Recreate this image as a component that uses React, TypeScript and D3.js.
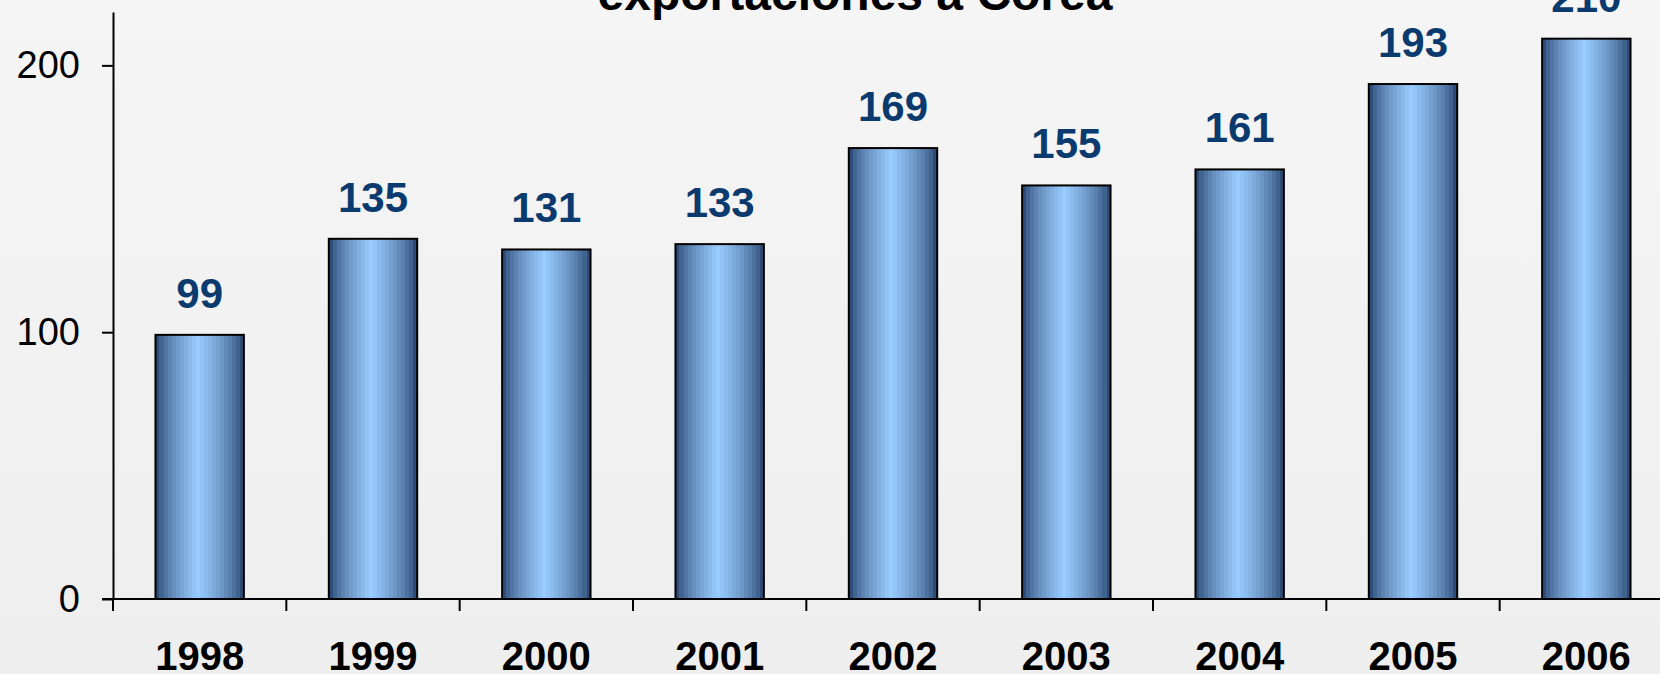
import { useRef, useEffect } from 'react'
import * as d3 from 'd3'

const years = ['1998', '1999', '2000', '2001', '2002', '2003', '2004', '2005', '2006']
const values = [99, 135, 131, 133, 169, 155, 161, 193, 210]
const yTicks = [0, 100, 200]
const title = 'exportaciones a Corea'

const W = 1660
const H = 674

const App = () => {
  const chartRef = useRef<SVGSVGElement>(null)

  useEffect(() => {
    drawChart()
  }, [])

  const drawChart = () => {
    const svg = d3.select(chartRef.current)
    svg.selectAll('*').remove()

    const left = 113
    const right = 1673
    const zeroY = 599
    const topY = 12

    const x = d3.scaleBand().domain(years).range([left, right]).paddingInner(0.49).paddingOuter(0.245)
    const y = d3.scaleLinear().domain([0, 220]).range([zeroY, topY])

    const defs = svg.append('defs')
    const bg = defs.append('linearGradient').attr('id', 'bg').attr('x1', 0).attr('y1', 0).attr('x2', 0).attr('y2', 1)
    bg.append('stop').attr('offset', '0%').attr('stop-color', '#f5f5f5')
    bg.append('stop').attr('offset', '100%').attr('stop-color', '#eeeeee')

    // stepped cylinder shading
    const grad = defs.append('linearGradient').attr('id', 'bar').attr('x1', 0).attr('y1', 0).attr('x2', 1).attr('y2', 0)
    const dark = '#1b355f'
    const light = '#99ccff'
    const peak = 0.48
    const steps = 22
    const shade = (t: number) => {
      const k = t < peak ? t / peak : (1 - t) / (1 - peak)
      return d3.interpolateRgb(dark, light)(Math.pow(k, 0.6))
    }
    for (let i = 0; i < steps; i++) {
      const t0 = i / steps
      const t1 = (i + 1) / steps
      const c = shade((t0 + t1) / 2)
      grad.append('stop').attr('offset', t0).attr('stop-color', c)
      grad.append('stop').attr('offset', t1).attr('stop-color', c)
    }

    svg.append('rect').attr('width', W).attr('height', H).attr('fill', 'url(#bg)')

    // title
    svg.append('text')
      .attr('x', 855)
      .attr('y', 10)
      .attr('text-anchor', 'middle')
      .attr('font-family', 'Liberation Sans, Arial, sans-serif')
      .attr('font-weight', 'bold')
      .attr('font-size', 48)
      .attr('fill', '#000')
      .text(title)

    const g = svg.append('g')

    g.selectAll('rect.bar')
      .data(values)
      .enter().append('rect')
      .attr('class', 'bar')
      .attr('x', (d, i) => x(years[i])!)
      .attr('y', (d) => y(d))
      .attr('width', x.bandwidth())
      .attr('height', (d) => zeroY - y(d))
      .attr('fill', 'url(#bar)')
      .attr('stroke', '#000')
      .attr('stroke-width', 2)

    g.selectAll('text.val')
      .data(values)
      .enter().append('text')
      .attr('class', 'val')
      .attr('x', (d, i) => x(years[i])! + x.bandwidth() / 2)
      .attr('y', (d) => y(d) - 27)
      .attr('text-anchor', 'middle')
      .attr('font-family', 'Liberation Sans, Arial, sans-serif')
      .attr('font-weight', 'bold')
      .attr('font-size', 42)
      .attr('fill', '#0b3a6e')
      .text((d) => d)

    // y axis
    const yAxis = svg.append('g')
      .attr('transform', `translate(${left},0)`)
      .call(d3.axisLeft(y).tickValues(yTicks).tickSize(11).tickPadding(22).tickSizeOuter(0))
    yAxis.select('.domain').attr('stroke', '#000').attr('stroke-width', 2)
    yAxis.selectAll('.tick line').attr('stroke', '#000').attr('stroke-width', 2)
    yAxis.selectAll('.tick text')
      .attr('font-family', 'Liberation Sans, Arial, sans-serif')
      .attr('font-size', 38)
      .attr('fill', '#000')

    // x axis
    svg.append('line')
      .attr('x1', left - 11).attr('x2', right)
      .attr('y1', zeroY).attr('y2', zeroY)
      .attr('stroke', '#000').attr('stroke-width', 2)

    const step = x.step()
    svg.selectAll('line.xtick')
      .data(years)
      .enter().append('line')
      .attr('class', 'xtick')
      .attr('x1', (d) => x(d)! - x.paddingInner() * step / 2)
      .attr('x2', (d) => x(d)! - x.paddingInner() * step / 2)
      .attr('y1', zeroY).attr('y2', zeroY + 12)
      .attr('stroke', '#000').attr('stroke-width', 2)

    svg.selectAll('text.year')
      .data(years)
      .enter().append('text')
      .attr('class', 'year')
      .attr('x', (d) => x(d)! + x.bandwidth() / 2)
      .attr('y', 670)
      .attr('text-anchor', 'middle')
      .attr('font-family', 'Liberation Sans, Arial, sans-serif')
      .attr('font-weight', 'bold')
      .attr('font-size', 40)
      .attr('fill', '#000')
      .text((d) => d)
  }

  return (
    <svg ref={chartRef} width={W} height={H} style={{ position: 'absolute', left: 0, top: 0 }}></svg>
  )
}

export default App
